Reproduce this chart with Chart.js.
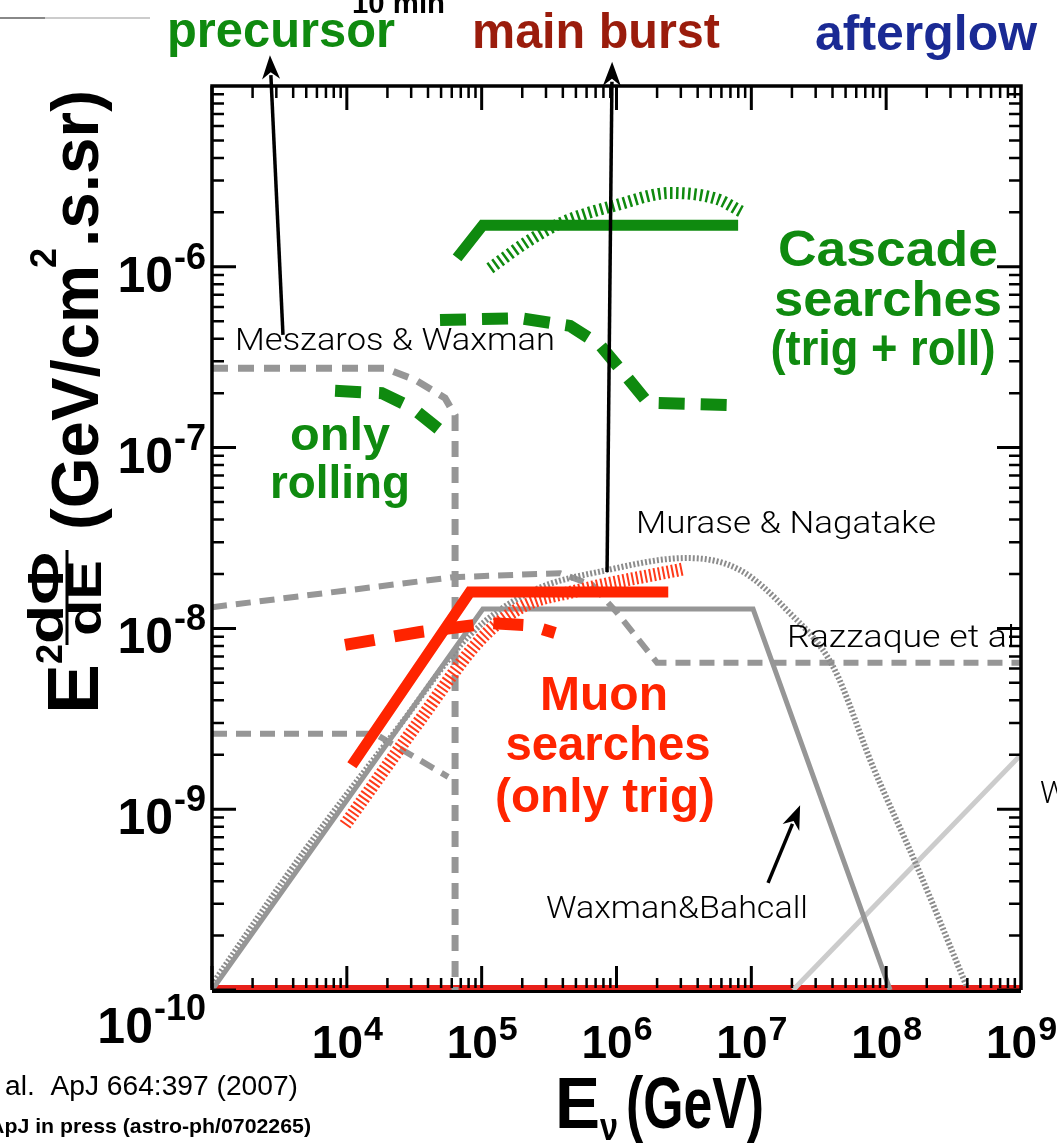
<!DOCTYPE html>
<html>
<head>
<meta charset="utf-8">
<script src="https://cdn.jsdelivr.net/npm/chart.js@4"></script>
<style>
  body { margin: 0; background: #fff; }
  canvas { display: block; }
</style>
</head>
<body>
<canvas id="myChart" width="1057" height="1144"></canvas>
<script>
// neutrino energy E (GeV) and E^2 dPhi/dE (GeV/cm2.s.sr)
var mwPrecursorE = [1e3, 1.92e4, 3.21e4, 5.35e4, 6.35e4, 6.35e4];
var mwPrecursorF = [2.75e-7, 2.75e-7, 2.37e-7, 1.88e-7, 1.51e-7, 1e-10];
var mwLowE = [1e3, 1.62e4, 5.64e4];
var mwLowF = [2.61e-9, 2.61e-9, 1.51e-9];
var razzaqueE = [1e3, 6.14e4, 3.82e5, 6.59e5, 1.01e6, 2.0e6, 1e9];
var razzaqueF = [1.31e-8, 1.92e-8, 2.02e-8, 1.74e-8, 1.22e-8, 6.45e-9, 6.45e-9];
var wbE = [1e3, 1.02e5, 1.03e7, 1.07e8];
var wbF = [1e-10, 1.28e-8, 1.28e-8, 1e-10];
var muraseE = [1e3, 4.5e3, 2.48e4, 8.2e4, 2.29e5, 8.5e5, 3.34e6, 8.26e6, 1.84e7, 4.05e7, 8.0e7, 1.7e8, 3.99e8];
var muraseF = [1.07e-10, 5.45e-10, 2.92e-9, 9.2e-9, 1.59e-8, 2.1e-8, 2.45e-8, 2.1e-8, 1.26e-8, 6.12e-9, 1.71e-9, 4.79e-10, 1.03e-10];
var afterglowE = [2.04e7, 1e9];
var afterglowF = [1e-10, 2.0e-9];
var bottomE = [1e3, 1e9];
var bottomF = [1e-10, 1e-10];

// sensitivities
var cascSolidE = [6.57e4, 1.02e5, 7.98e6];
var cascSolidF = [1.12e-6, 1.70e-6, 1.70e-6];
var cascHatchE = [1.15e5, 2.29e5, 4.02e5, 1.01e6, 2.5e6, 5.57e6, 8.55e6];
var cascHatchF = [9.8e-7, 1.41e-6, 1.77e-6, 2.2e-6, 2.56e-6, 2.37e-6, 2.01e-6];
var cascDashE = [4.91e4, 1.93e5, 4.53e5, 7.55e5, 1.16e6, 1.71e6, 6.97e6];
var cascDashF = [5.08e-7, 5.2e-7, 4.71e-7, 3.69e-7, 2.52e-7, 1.77e-7, 1.72e-7];
var rollDashE = [8.18e3, 1.82e4, 3.05e4, 5.63e4];
var rollDashF = [2.06e-7, 2.0e-7, 1.66e-7, 1.15e-7];
var muonSolidE = [1.09e4, 8.2e4, 2.42e6];
var muonSolidF = [1.75e-9, 1.59e-8, 1.59e-8];
var muonDashE = [9.7e3, 3.49e4, 1.15e5, 2.29e5, 3.5e5];
var muonDashF = [8.1e-9, 9.55e-9, 1.07e-8, 1.04e-8, 9.44e-9];
var muonHatchE = [9.7e3, 3.49e4, 9.73e4, 1.93e5, 5.37e5, 3.12e6];
var muonHatchF = [8.2e-10, 3.11e-9, 8.63e-9, 1.3e-8, 1.63e-8, 2.13e-8];

// annotation arrows (tail -> head), in data coordinates
var arrowE0 = [3.36e3, 8.51e5, 1.33e7];
var arrowF0 = [4.2e-7, 2.05e-8, 3.91e-10];
var arrowE1 = [2.69e3, 9.28e5, 2.3e7];
var arrowF1 = [1.48e-5, 1.36e-5, 1.05e-9];

var xTickExps = [4, 5, 6, 7, 8, 9];
var yTickExps = [-10, -9, -8, -7, -6];

var GREEN = '#0f8a0f', RED = '#ff2400', GRAY = '#969696';
var SANS = '"Liberation Sans", Arial, sans-serif';
var THIN = 'Roboto, "Open Sans", sans-serif';

function pts(E, F) {
  return E.map(function (e, i) { return { x: e, y: F[i] }; });
}

function line(E, F, color, width, dash, order, smooth) {
  return {
    data: pts(E, F), borderColor: color, borderWidth: width, borderDash: dash || [],
    showLine: true, pointRadius: 0, fill: false, order: order,
    tension: smooth ? 0.4 : 0, cubicInterpolationMode: smooth ? 'monotone' : 'default',
    borderCapStyle: 'butt', borderJoinStyle: 'miter'
  };
}

function fitText(ctx, txt, x, y, font, color, w, align) {
  ctx.save();
  ctx.font = font;
  ctx.fillStyle = color;
  ctx.textAlign = 'left';
  ctx.textBaseline = 'alphabetic';
  var m = ctx.measureText(txt).width;
  var s = w ? w / m : 1;
  var x0 = x;
  if (align === 'center') x0 = x - m * s / 2;
  if (align === 'right') x0 = x - m * s;
  ctx.translate(x0, y);
  ctx.scale(s, 1);
  ctx.fillText(txt, 0, 0);
  ctx.restore();
}

function arrow(ctx, x0, y0, x1, y1) {
  var a = Math.atan2(y1 - y0, x1 - x0), L = 24, W = 9;
  ctx.save();
  ctx.strokeStyle = '#000'; ctx.fillStyle = '#000'; ctx.lineWidth = 3.5;
  ctx.beginPath();
  ctx.moveTo(x0, y0);
  ctx.lineTo(x1 - (L - 4) * Math.cos(a), y1 - (L - 4) * Math.sin(a));
  ctx.stroke();
  ctx.beginPath();
  ctx.moveTo(x1, y1);
  ctx.lineTo(x1 - L * Math.cos(a) + W * Math.sin(a), y1 - L * Math.sin(a) - W * Math.cos(a));
  ctx.lineTo(x1 - (L - 7) * Math.cos(a), y1 - (L - 7) * Math.sin(a));
  ctx.lineTo(x1 - L * Math.cos(a) - W * Math.sin(a), y1 - L * Math.sin(a) + W * Math.cos(a));
  ctx.closePath();
  ctx.fill();
  ctx.restore();
}

// box with inward log ticks on all four sides
var framePlugin = {
  id: 'frame',
  afterDatasetsDraw: function (chart) {
    var ctx = chart.ctx, a = chart.chartArea, xs = chart.scales.x, ys = chart.scales.y;
    ctx.save();
    ctx.strokeStyle = '#000';
    var e, m, v, p, len;
    for (e = 3; e < 9; e++) {
      for (m = 1; m <= 9; m++) {
        v = m * Math.pow(10, e);
        p = xs.getPixelForValue(v);
        len = m === 1 ? 24 : 12;
        ctx.lineWidth = m === 1 ? 3 : 2.5;
        ctx.beginPath();
        ctx.moveTo(p, a.bottom - 2); ctx.lineTo(p, a.bottom - len);
        ctx.moveTo(p, a.top); ctx.lineTo(p, a.top + len);
        ctx.stroke();
      }
    }
    for (e = -10; e < -5; e++) {
      for (m = 1; m <= 9; m++) {
        v = m * Math.pow(10, e);
        p = ys.getPixelForValue(v);
        len = m === 1 ? 24 : 12;
        ctx.lineWidth = m === 1 ? 3 : 2.5;
        ctx.beginPath();
        ctx.moveTo(a.left, p); ctx.lineTo(a.left + len, p);
        ctx.moveTo(a.right, p); ctx.lineTo(a.right - len, p);
        ctx.stroke();
      }
    }
    ctx.lineWidth = 3.5;
    ctx.beginPath();
    ctx.moveTo(a.left, a.bottom); ctx.lineTo(a.left, a.top);
    ctx.lineTo(a.right, a.top); ctx.lineTo(a.right, a.bottom);
    ctx.stroke();
    ctx.lineWidth = 3;
    ctx.beginPath();
    ctx.moveTo(a.left, a.bottom + 1.5); ctx.lineTo(a.right, a.bottom + 1.5);
    ctx.stroke();
    ctx.restore();
  },
  afterDraw: function (chart) {
    var ctx = chart.ctx, xs = chart.scales.x, ys = chart.scales.y;
    var B = 'bold ';

    // tick labels
    xTickExps.forEach(function (e) {
      var p = xs.getPixelForValue(Math.pow(10, e));
      ctx.font = B + '46px ' + SANS;
      var w1 = ctx.measureText('10').width;
      ctx.font = B + '34px ' + SANS;
      var w2 = ctx.measureText(String(e)).width;
      var x0 = p - (w1 + w2) / 2;
      fitText(ctx, '10', x0, 1058, B + '46px ' + SANS, '#000');
      fitText(ctx, String(e), x0 + w1 + 1, 1040, B + '34px ' + SANS, '#000');
    });
    yTickExps.forEach(function (e) {
      var p = ys.getPixelForValue(Math.pow(10, e));
      var shift = e === yTickExps[0] ? 28 : 0;
      ctx.font = B + '36px ' + SANS;
      var w2 = ctx.measureText(String(e)).width;
      fitText(ctx, String(e), 206, p + 2 + shift, B + '36px ' + SANS, '#000', null, 'right');
      fitText(ctx, '10', 206 - w2 - 1, p + 25 + shift, B + '50px ' + SANS, '#000', null, 'right');
    });

    // axis titles
    fitText(ctx, 'E', 555, 1128, B + '72px ' + SANS, '#000', 45);
    fitText(ctx, '\u03bd', 600, 1140, B + '38px ' + SANS, '#000', 18);
    fitText(ctx, '(GeV)', 626, 1128, B + '72px ' + SANS, '#000', 138);

    ctx.save();
    ctx.rotate(-Math.PI / 2);
    fitText(ctx, 'E', -714, 98, B + '72px ' + SANS, '#000', 50);
    fitText(ctx, '2', -664, 62, B + '36px ' + SANS, '#000', 20);
    fitText(ctx, 'd\u03a6', -598, 63, B + '50px ' + SANS, '#000', 92, 'center');
    fitText(ctx, 'dE', -598, 101, B + '48px ' + SANS, '#000', 76, 'center');
    ctx.lineWidth = 3; ctx.strokeStyle = '#000';
    ctx.beginPath(); ctx.moveTo(-645, 67); ctx.lineTo(-550, 67); ctx.stroke();
    fitText(ctx, '(GeV/cm', -530, 98, B + '66px ' + SANS, '#000', 265);
    fitText(ctx, '2', -268, 56, B + '36px ' + SANS, '#000', 20);
    fitText(ctx, '.s.sr)', -247, 98, B + '66px ' + SANS, '#000', 157);
    ctx.restore();

    // phase headers
    fitText(ctx, '10 min', 352, 13, B + '30px ' + SANS, '#000', 93);
    fitText(ctx, 'precursor', 167, 47, B + '50px ' + SANS, GREEN, 228);
    fitText(ctx, 'main burst', 472, 48, B + '50px ' + SANS, '#9a1c0c', 248);
    fitText(ctx, 'afterglow', 815, 50, B + '50px ' + SANS, '#1a2a94', 222);

    // search labels
    fitText(ctx, 'Cascade', 888, 266, B + '50px ' + SANS, GREEN, 220, 'center');
    fitText(ctx, 'searches', 888, 316, B + '50px ' + SANS, GREEN, 228, 'center');
    fitText(ctx, '(trig + roll)', 883, 365, B + '50px ' + SANS, GREEN, 225, 'center');
    fitText(ctx, 'only', 340, 450, B + '46px ' + SANS, GREEN, 100, 'center');
    fitText(ctx, 'rolling', 340, 498, B + '46px ' + SANS, GREEN, 140, 'center');
    fitText(ctx, 'Muon', 604, 710, B + '48px ' + SANS, RED, 128, 'center');
    fitText(ctx, 'searches', 608, 760, B + '48px ' + SANS, RED, 205, 'center');
    fitText(ctx, '(only trig)', 605, 812, B + '48px ' + SANS, RED, 220, 'center');

    // model labels
    var T = '300 31px ' + THIN;
    fitText(ctx, 'Meszaros & Waxman', 235, 350, T, '#000', 320);
    fitText(ctx, 'Murase & Nagatake', 636, 533, T, '#000', 300);
    fitText(ctx, 'Razzaque et al', 787, 647, T, '#000', 228);
    fitText(ctx, 'Waxman&Bahcall', 546, 918, T, '#000', 262);
    fitText(ctx, 'Waxman', 1040, 803, T, '#000', 120);

    // references
    fitText(ctx, 'al.  ApJ 664:397 (2007)', 5, 1095, '27px ' + SANS, '#000', 293);
    fitText(ctx, 'ApJ in press (astro-ph/0702265)', -11, 1133, B + '21px ' + SANS, '#000', 322);

    ctx.save();
    ctx.strokeStyle = '#bbbbbb'; ctx.lineWidth = 1.5;
    ctx.beginPath(); ctx.moveTo(0, 18); ctx.lineTo(150, 18); ctx.stroke();
    ctx.strokeStyle = '#888888'; ctx.lineWidth = 2;
    ctx.beginPath(); ctx.moveTo(0, 18); ctx.lineTo(45, 18); ctx.stroke();
    ctx.restore();

    // arrows
    for (var i = 0; i < arrowE0.length; i++) {
      arrow(ctx, xs.getPixelForValue(arrowE0[i]), ys.getPixelForValue(arrowF0[i]),
        xs.getPixelForValue(arrowE1[i]), ys.getPixelForValue(arrowF1[i]));
    }
  }
};

var ctx = document.getElementById('myChart').getContext('2d');
var chart = new Chart(ctx, {
  type: 'scatter',
  data: {
    datasets: [
      line(muonSolidE, muonSolidF, RED, 11, [], 1),
      line(muonDashE, muonDashF, RED, 12, [30, 20], 2),
      line(muonHatchE, muonHatchF, '#ff3a1a', 13, [2, 2.5], 3, true),
      line(cascSolidE, cascSolidF, GREEN, 11, [], 1),
      line(cascHatchE, cascHatchF, GREEN, 12, [2.5, 3.5], 3, true),
      line(cascDashE, cascDashF, GREEN, 12, [26, 16], 2),
      line(rollDashE, rollDashF, GREEN, 12, [26, 18], 2),
      line(wbE, wbF, GRAY, 5, [], 5),
      line(muraseE, muraseF, '#8c8c8c', 6, [2, 2], 6, true),
      line(razzaqueE, razzaqueF, GRAY, 6, [15, 9], 7),
      line(mwPrecursorE, mwPrecursorF, GRAY, 7, [16, 10], 7),
      line(mwLowE, mwLowF, GRAY, 6, [15, 9], 7),
      line(afterglowE, afterglowF, '#cccccc', 5, [], 8),
      line(bottomE, bottomF, '#e8201a', 10, [], 9)
    ]
  },
  options: {
    responsive: false,
    animation: false,
    layout: { padding: { left: 212, top: 86, right: 36, bottom: 154 } },
    plugins: { legend: { display: false }, tooltip: { enabled: false } },
    scales: {
      x: { type: 'logarithmic', min: 1e3, max: 1e9, display: false },
      y: { type: 'logarithmic', min: 1e-10, max: 1e-5, display: false }
    }
  },
  plugins: [framePlugin]
});
</script>
</body>
</html>
